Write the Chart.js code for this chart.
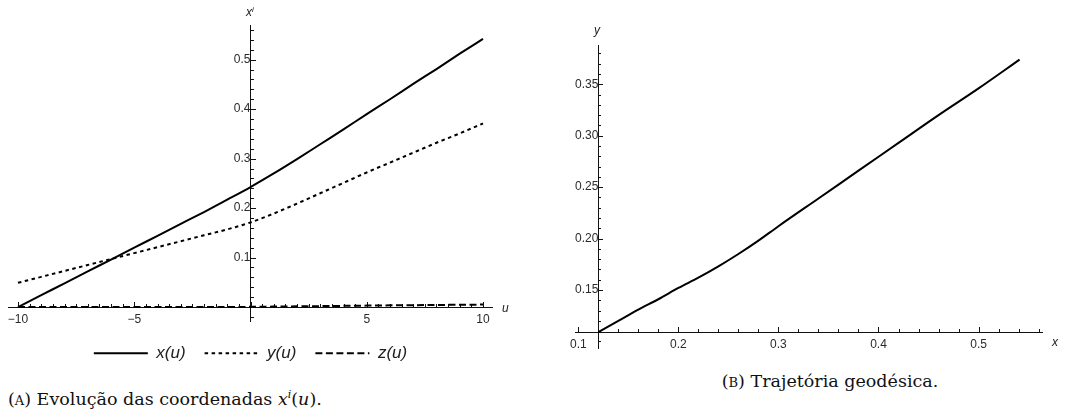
<!DOCTYPE html>
<html><head><meta charset="utf-8">
<script src="https://cdn.jsdelivr.net/npm/chart.js@4.4.1/dist/chart.umd.min.js"></script>
<style>
html,body{margin:0;padding:0;background:#fff;}
#wrap{position:relative;width:1077px;height:420px;overflow:hidden;background:#fff;}
canvas{position:absolute;}
.lbl{position:absolute;font-family:'Liberation Sans',Arial,sans-serif;font-style:italic;font-size:12px;color:#222;line-height:1;white-space:nowrap;}
.cap{position:absolute;font-family:'DejaVu Serif',serif;font-size:17.5px;color:#111;white-space:nowrap;line-height:1;}
.sup{position:relative;top:-7px;font-size:11px;}
</style></head><body>
<div id="wrap">
<canvas id="c1" width="520" height="380" style="left:0;top:0"></canvas>
<canvas id="c2" width="537" height="360" style="left:540px;top:0"></canvas>
<div class="lbl" style="left:246px;top:6px">x<span class="sup" style="font-size:8px;top:-4px">i</span></div>
<div class="lbl" style="left:502px;top:302px">u</div>
<div class="lbl" style="left:594px;top:24px">y</div>
<div class="lbl" style="left:1052px;top:336px">x</div>
<div class="cap" style="left:8px;top:391px">(<span style="font-size:13px">A</span>) Evolução das coordenadas <i>x</i><span class="sup"><i>i</i></span>(<i>u</i>).</div>
<div class="cap" style="left:830px;top:373px;transform:translateX(-50%)">(<span style="font-size:13px">B</span>) Trajetória geodésica.</div>
</div>
<script>
// ---------- data: chart A (x^i(u)) ----------
const uValues = [-10,-9,-8,-7,-6,-5,-4,-3,-2,-1,0,1,2,3,4,5,6,7,8,9,10];
const xOfU = [0.000,0.024,0.048,0.072,0.096,0.120,0.144,0.168,0.192,0.217,0.2425,0.270,0.299,0.329,0.359,0.390,0.420,0.451,0.481,0.512,0.542];
const yOfU = [0.049,0.061,0.073,0.085,0.097,0.109,0.121,0.133,0.145,0.157,0.171,0.189,0.209,0.230,0.251,0.272,0.292,0.312,0.332,0.351,0.371];
const zOfU = [0.000,0.000,0.000,0.000,0.000,0.000,0.000,0.000,0.0001,0.0002,0.0004,0.0009,0.0014,0.0019,0.0024,0.0029,0.0034,0.0038,0.0042,0.0046,0.0050];
const seriesLabels = ['x(u)','y(u)','z(u)'];
const uTickValues = [-10,-5,5,10];
const uTickLabels = ['\u221210','\u22125','5','10'];
const xiTickValues = [0.1,0.2,0.3,0.4,0.5];
const xiTickLabels = ['0.1','0.2','0.3','0.4','0.5'];

// ---------- data: chart B (trajetória geodésica) ----------
const geoX = [0.120,0.140,0.160,0.180,0.200,0.220,0.240,0.260,0.280,0.300,0.340,0.380,0.420,0.460,0.500,0.541];
const geoY = [0.109,0.120,0.131,0.141,0.152,0.162,0.173,0.185,0.198,0.212,0.239,0.266,0.293,0.320,0.346,0.374];
const geoXTickValues = [0.1,0.2,0.3,0.4,0.5];
const geoXTickLabels = ['0.1','0.2','0.3','0.4','0.5'];
const geoYTickValues = [0.15,0.20,0.25,0.30,0.35];
const geoYTickLabels = ['0.15','0.20','0.25','0.30','0.35'];

// ---------- helpers ----------
function tickSet(from, step, count, majors){
  const out = [];
  for (let k = 0; k <= count; k++){
    const v = Math.round((from + k*step)*1e9)/1e9;
    out.push({value: v, isMajor: majors.some(m => Math.abs(m - v) < 1e-9)});
  }
  return out;
}
function labeler(values, labels){
  return function(value){
    const i = values.findIndex(m => Math.abs(m - value) < 1e-9);
    return i >= 0 ? labels[i] : '';
  };
}
const tickFont = {family:"'Liberation Sans', Arial, sans-serif", size:12};
const tickColor = '#2a2a2a';
const axisColor = '#111';

const axisTicks = {
  id: 'axisTicks',
  beforeDatasetsDraw(chart, args, o){
    const {ctx} = chart; const sx = chart.scales.x, sy = chart.scales.y;
    const ax = Math.round(sy.getPixelForValue(o.xAxisAt));
    const ay = Math.round(sx.getPixelForValue(o.yAxisAt));
    ctx.save(); ctx.strokeStyle = axisColor; ctx.lineWidth = 1; ctx.beginPath();
    sx.ticks.forEach(t => { const p = Math.round(sx.getPixelForValue(t.value)) + 0.5; const L = t.isMajor ? 5 : 3; ctx.moveTo(p, ax); ctx.lineTo(p, ax - L); });
    sy.ticks.forEach(t => { const p = Math.round(sy.getPixelForValue(t.value)) + 0.5; const L = t.isMajor ? 5 : 3; ctx.moveTo(ay, p); ctx.lineTo(ay + L, p); });
    ctx.stroke(); ctx.restore();
  }
};

function lineDs(label, xs, ys, dash){
  return {label, data: xs.map((x,i)=>({x, y: ys[i]})), showLine:true, pointRadius:0, borderColor:'#000', backgroundColor:'rgba(0,0,0,0)', borderWidth:2, borderDash:dash, cubicInterpolationMode:'monotone', fill:false};
}

// ---------- chart A ----------
new Chart(document.getElementById('c1'), {
  type:'scatter',
  data:{datasets:[
    lineDs(seriesLabels[0], uValues, xOfU, []),
    lineDs(seriesLabels[1], uValues, yOfU, [3.5,3.5]),
    lineDs(seriesLabels[2], uValues, zOfU, [7,3.5])
  ]},
  options:{
    responsive:false, animation:false, devicePixelRatio:1, events:[],
    layout:{padding:{left:8.7, right:27.7, top:25, bottom:8.2}},
    scales:{
      x:{type:'linear', min:-10.4, max:10.4, position:{y:0},
         afterBuildTicks: s => { s.ticks = tickSet(-10, 0.5, 40, uTickValues.concat([0])); },
         grid:{display:false, drawTicks:false}, border:{display:true, color:axisColor, width:1},
         ticks:{autoSkip:false, maxRotation:0, padding:5, font:tickFont, color:tickColor, callback: labeler(uTickValues, uTickLabels)}},
      y:{type:'linear', min:-0.03, max:0.57, position:{x:0},
         afterBuildTicks: s => { s.ticks = tickSet(-0.02, 0.02, 29, xiTickValues.concat([0])); },
         grid:{display:false, drawTicks:false}, border:{display:true, color:axisColor, width:1},
         ticks:{autoSkip:false, padding:4.5, font:tickFont, color:tickColor, callback: labeler(xiTickValues, xiTickLabels)}}
    },
    plugins:{
      tooltip:{enabled:false},
      axisTicks:{xAxisAt:0, yAxisAt:0},
      legend:{display:true, position:'bottom',
        title:{display:true, text:'', font:{size:1, lineHeight:1.2}, padding:{top:2.7, bottom:0}},
        labels:{usePointStyle:true, pointStyle:'line', pointStyleWidth:54, padding:19, color:'#222',
          font:{family:"'Liberation Sans', Arial, sans-serif", size:17, style:'italic'},
          generateLabels: chart => Chart.defaults.plugins.legend.labels.generateLabels(chart).map(it => {
            const ds = chart.data.datasets[it.datasetIndex];
            return Object.assign(it, {lineDash: ds.borderDash, lineWidth: ds.borderWidth, strokeStyle: ds.borderColor, pointStyle: 'line', lineCap: 'butt'});
          })}}
    }
  },
  plugins:[axisTicks]
});

// ---------- chart B ----------
new Chart(document.getElementById('c2'), {
  type:'scatter',
  data:{datasets:[ lineDs('y(x)', geoX, geoY, []) ]},
  options:{
    responsive:false, animation:false, devicePixelRatio:1, events:[],
    layout:{padding:{left:35, right:35, top:45, bottom:12}},
    scales:{
      x:{type:'linear', min:0.0967, max:0.5634, position:{y:0.109},
         afterBuildTicks: s => { s.ticks = tickSet(0.10, 0.02, 23, geoXTickValues); },
         grid:{display:false, drawTicks:false}, border:{display:true, color:axisColor, width:1},
         ticks:{autoSkip:false, maxRotation:0, padding:5, font:tickFont, color:tickColor, callback: labeler(geoXTickValues, geoXTickLabels)}},
      y:{type:'linear', min:0.0936, max:0.3882, position:{x:0.12},
         afterBuildTicks: s => { s.ticks = tickSet(0.10, 0.01, 28, geoYTickValues); },
         grid:{display:false, drawTicks:false}, border:{display:true, color:axisColor, width:1},
         ticks:{autoSkip:false, padding:4.5, font:tickFont, color:tickColor, callback: labeler(geoYTickValues, geoYTickLabels)}}
    },
    plugins:{ tooltip:{enabled:false}, legend:{display:false}, axisTicks:{xAxisAt:0.109, yAxisAt:0.12} }
  },
  plugins:[axisTicks]
});
</script>
</body></html>
